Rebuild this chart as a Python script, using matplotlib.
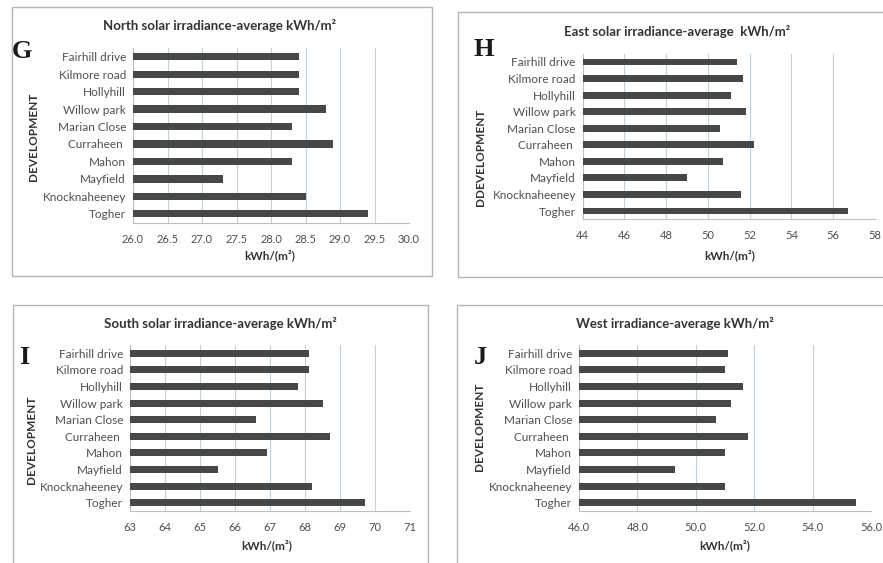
import matplotlib
matplotlib.use("Agg")
import matplotlib.pyplot as plt
from matplotlib.patches import Rectangle
from matplotlib.ticker import FormatStrFormatter

categories = ["Fairhill drive", "Kilmore road", "Hollyhill", "Willow park", "Marian Close",
              "Curraheen ", "Mahon", "Mayfield", "Knocknaheeney", "Togher"]
north = [28.4, 28.4, 28.4, 28.8, 28.3, 28.9, 28.3, 27.3, 28.5, 29.4]
east = [51.4, 51.7, 51.1, 51.8, 50.6, 52.2, 50.7, 49.0, 51.6, 56.7]
south = [68.1, 68.1, 67.8, 68.5, 66.6, 68.7, 66.9, 65.5, 68.2, 69.7]
west = [51.1, 51.0, 51.6, 51.2, 50.7, 51.8, 51.0, 49.3, 51.0, 55.5]

titles = ["North solar irradiance-average kWh/m²", "East solar irradiance-average  kWh/m²",
          "South solar irradiance-average kWh/m²", "West irradiance-average kWh/m²"]
letters = ["G", "H", "I", "J"]
ylabels = ["DEVELOPMENT", "DDEVELOPMENT", "DEVELOPMENT", "DEVELOPMENT"]
xlabel = "kWh/(m²)"
xranges = [(26.0, 30.0, 0.5), (44, 58, 2), (63, 71, 1), (46.0, 56.0, 2.0)]
xfmts = ["%.1f", "%d", "%d", "%.1f"]

W, H = 883, 563
fig = plt.figure(figsize=(W / 100, H / 100), dpi=100)
fig.patch.set_facecolor("white")

def fx(x):
    return x / W

def fy(y):
    return 1 - y / H

# panel layout in pixels: box (x0, y0, x1, y1), axes (x0, x1, ytop, ybottom)
boxes = [(12, 7, 432, 276), (458, 12, 900, 277), (13, 305, 428, 580), (457, 305, 900, 580)]
axes_px = [(133, 409, 48, 222.5), (582.7, 875, 53.7, 219.3),
           (130, 410, 344.7, 511.3), (579, 871, 344.7, 511.3)]
title_pos = [(220, 25), (677, 31), (220, 323), (675, 323)]
letter_pos = [(22, 51), (484, 49), (24, 358), (480, 358)]
ylabel_pos = [(33, 137), (481, 157), (31, 440), (479, 427)]
xlabel_pos = [(270, 255), (730, 255), (267, 545), (725, 545)]

data = [north, east, south, west]
font = "Lato"
grid_col = "#b9d3e3"
bar_col = "#474747"
txt_col = "#333333"
tick_col = "#4f4f4f"

for i in range(4):
    bx0, by0, bx1, by1 = boxes[i]
    fig.patches.append(Rectangle((fx(bx0), fy(by1)), fx(bx1 - bx0), (by1 - by0) / H,
                                 transform=fig.transFigure, fill=False,
                                 edgecolor="#b5b5b5", linewidth=1.0, zorder=0))
    ax0, ax1, aty, aby = axes_px[i]
    ax = fig.add_axes([fx(ax0), fy(aby), fx(ax1 - ax0), (aby - aty) / H])
    xmin, xmax, step = xranges[i]
    ypos = list(range(len(categories)))
    ax.barh(ypos, data[i], height=0.42, left=0, color=bar_col, zorder=3)
    ax.set_xlim(xmin, xmax)
    ax.set_ylim(len(categories) - 0.5, -0.5)
    ticks = []
    t = xmin
    while t <= xmax + 1e-9:
        ticks.append(round(t, 6))
        t += step
    ax.set_xticks(ticks)
    ax.xaxis.set_major_formatter(FormatStrFormatter(xfmts[i]))
    ax.set_yticks(ypos)
    ax.set_yticklabels(categories)
    ax.grid(axis="x", color=grid_col, linewidth=0.8, zorder=0)
    ax.set_axisbelow(True)
    for s in ["top", "right"]:
        ax.spines[s].set_visible(False)
    ax.spines["left"].set_color("#bfbfbf")
    ax.spines["bottom"].set_color("#bfbfbf")
    ax.tick_params(axis="x", length=0, pad=8, labelsize=8, labelcolor=tick_col)
    ax.tick_params(axis="y", length=0, pad=5, labelsize=8.5, labelcolor=tick_col)
    for lab in ax.get_xticklabels() + ax.get_yticklabels():
        lab.set_fontfamily(font)

    tx, ty = title_pos[i]
    fig.text(fx(tx), fy(ty), titles[i], ha="center", va="center", fontsize=9.5,
             fontweight="bold", color=txt_col, family=font)
    lx, ly = letter_pos[i]
    fig.text(fx(lx), fy(ly), letters[i], ha="center", va="center", fontsize=19,
             fontweight="bold", color="#1a1a1a", family="Liberation Serif")
    yx, yy = ylabel_pos[i]
    fig.text(fx(yx), fy(yy), ylabels[i], ha="center", va="center", fontsize=8.5,
             fontweight="bold", color=txt_col, family=font, rotation=90)
    xx, xy = xlabel_pos[i]
    fig.text(fx(xx), fy(xy), xlabel, ha="center", va="center", fontsize=8.5,
             fontweight="bold", color=txt_col, family=font)

fig.savefig("out.png", dpi=100, facecolor="white")
